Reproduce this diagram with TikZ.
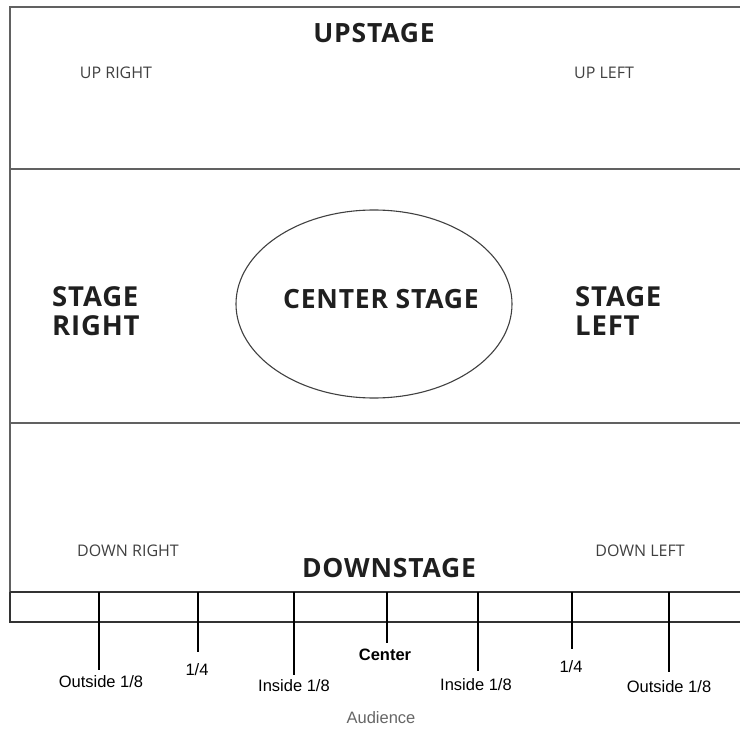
\documentclass[tikz,border=0pt]{standalone}
\usepackage{fontspec}
\setmainfont{Open Sans}
\newfontfamily\arialfont{Liberation Sans}
\usetikzlibrary{shapes.geometric}

\begin{document}
\begin{tikzpicture}[x=1pt,y=-1pt,
	frame/.style={line width=1.8pt, draw=black!62},
	frontline/.style={line width=1.6pt, draw=black!80},
	tick/.style={line width=1.2pt, draw=black},
	bigtext/.style={font=\fontsize{26.5}{29}\selectfont\bfseries\addfontfeature{LetterSpace=3}, text=black!88, inner sep=0pt},
	sidetext/.style={font=\fontsize{27.5}{29}\selectfont\bfseries\addfontfeature{LetterSpace=3}, text=black!88, inner sep=0pt, align=left, anchor=west},
	areatext/.style={font=\fontsize{16}{19}\selectfont, text=black!75, inner sep=0pt},
	marktext/.style={font=\arialfont\fontsize{16.5}{20}\selectfont, text=black, inner sep=0pt}]
	
	% 画布大小
	\useasboundingbox (0,0) rectangle (740,730);
	
	% 舞台外框与分区线
	\draw[frame] (740,7) -- (10,7) -- (10,592); % 上边和左边
	\draw[frame] (10,169) -- (740,169); % 上场区
	\draw[frame] (10,423) -- (740,423); % 下场区
	\draw[frontline] (10,592) -- (740,592); % 台口
	\draw[frontline] (10,592) -- (10,622) -- (740,622); % 台唇
	
	% 中央椭圆
	\node[draw, ellipse, minimum width=276pt, minimum height=188pt, line width=1.1pt, draw=black!75] (centerarea) at (374,304) {};
	
	% 区域名称
	\node[bigtext] (upstage) at (374,33) {UPSTAGE};
	\node[areatext] (upright) at (116,73) {UP RIGHT};
	\node[areatext] (upleft) at (604,73) {UP LEFT};
	\node[sidetext] (stageright) at (52,311) {STAGE\\RIGHT};
	\node[bigtext] (centerstage) at (381,299) {CENTER STAGE};
	\node[sidetext] (stageleft) at (575,311) {STAGE\\LEFT};
	\node[areatext] (downright) at (128,551) {DOWN RIGHT};
	\node[bigtext] (downstage) at (389,568) {DOWNSTAGE};
	\node[areatext] (downleft) at (640,551) {DOWN LEFT};
	
	% 台口刻度
	\coordinate (ro) at (99,592);  \coordinate (roend) at (99,670);
	\coordinate (rq) at (198,592); \coordinate (rqend) at (198,652);
	\coordinate (ri) at (294,592); \coordinate (riend) at (294,675);
	\coordinate (cc) at (387,592); \coordinate (ccend) at (387,643);
	\coordinate (li) at (478,592); \coordinate (liend) at (478,671);
	\coordinate (lq) at (572,592); \coordinate (lqend) at (572,649);
	\coordinate (lo) at (669,592); \coordinate (loend) at (669,672);
	\draw[tick] (ro) -- (roend);
	\draw[tick] (rq) -- (rqend);
	\draw[tick] (ri) -- (riend);
	\draw[tick] (cc) -- (ccend);
	\draw[tick] (li) -- (liend);
	\draw[tick] (lq) -- (lqend);
	\draw[tick] (lo) -- (loend);
	
	% 刻度说明
	\node[marktext] (routside) at (101,682) {Outside 1/8};
	\node[marktext] (rquarter) at (197,670) {1/4};
	\node[marktext] (rinside) at (294,686) {Inside 1/8};
	\node[marktext, font=\arialfont\bfseries\fontsize{16.5}{20}\selectfont] (center) at (385,655) {Center};
	\node[marktext] (linside) at (476,685) {Inside 1/8};
	\node[marktext] (lquarter) at (571,667) {1/4};
	\node[marktext] (loutside) at (669,687) {Outside 1/8};
	\node[marktext, text=black!60] (audience) at (381,718) {Audience};
	
\end{tikzpicture}
\end{document}
